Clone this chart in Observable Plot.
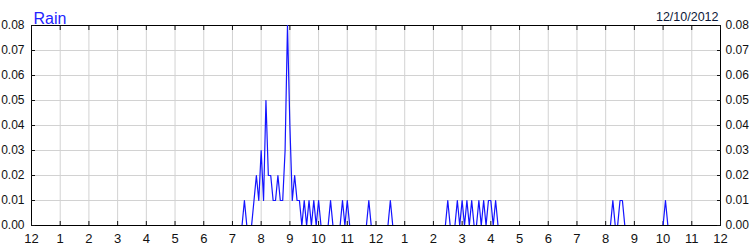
<!DOCTYPE html>
<html><head><meta charset="utf-8">
<script src="https://cdn.jsdelivr.net/npm/d3@7"></script>
<script src="https://cdn.jsdelivr.net/npm/@observablehq/plot@0.6"></script>
<style>
html,body{margin:0;padding:0;background:#fff;}
</style></head><body><div id="chart"></div>
<script>
const title = "Rain";
const dateLabel = "12/10/2012";

// vertices of the rain trace (5-minute readings), time of day and inches
const times = [
  "00:00","07:20","07:25","07:30","07:40","07:45","07:50","07:55","08:00","08:05",
  "08:10","08:15","08:20","08:25","08:30","08:35","08:40","08:45","08:50","08:55",
  "09:00","09:05","09:10","09:15","09:20","09:25","09:30","09:35","09:40","09:45",
  "09:50","09:55","10:00","10:05","10:20","10:25","10:30","10:45","10:50","10:55","11:00","11:05",
  "11:40","11:45","11:50","12:25","12:30","12:35","14:25","14:30","14:35","14:45",
  "14:50","14:55","15:00","15:05","15:10","15:15","15:20","15:25","15:30","15:35",
  "15:40","15:45","15:50","15:55","16:00","16:05","16:10","16:15","20:10","20:15",
  "20:20","20:25","20:30","20:35","20:40","22:00","22:05","22:10","24:00"
];
const rain = [
  0,0,0.01,0,0,0.01,0.02,0.01,0.03,0.01,
  0.05,0.02,0.02,0.01,0.01,0.02,0.01,0.01,0.03,0.08,
  0.04,0.01,0.02,0.01,0.01,0,0.01,0,0.01,0,
  0.01,0,0.01,0,0,0.01,0,0,0.01,0,0.01,0,
  0,0.01,0,0,0.01,0,0,0.01,0,0,
  0.01,0,0.01,0,0.01,0,0.01,0,0,0.01,
  0,0.01,0,0.01,0.01,0,0.01,0,0,0.01,
  0,0,0.01,0.01,0,0,0.01,0,0
];

const hourTicks = [0,1,2,3,4,5,6,7,8,9,10,11,12,13,14,15,16,17,18,19,20,21,22,23,24];
const hourLabels = ["12","1","2","3","4","5","6","7","8","9","10","11","12","1","2","3","4","5","6","7","8","9","10","11","12"];
const rainTicks = [0,0.01,0.02,0.03,0.04,0.05,0.06,0.07,0.08];

const toHours = t => { const [h, m] = t.split(":").map(Number); return h + m / 60; };
const data = times.map((t, i) => ({hour: toHours(t), rain: rain[i]}));

const chart = Plot.plot({
  width: 750, height: 250,
  marginLeft: 31, marginRight: 30, marginTop: 25, marginBottom: 25,
  style: {fontFamily: "'Liberation Sans', Arial, sans-serif", fontSize: "13px", color: "#111", background: "#fff", overflow: "visible"},
  x: {domain: [0, 24], ticks: hourTicks},
  y: {domain: [0, 0.08], ticks: rainTicks},
  marks: [
    Plot.gridX(hourTicks, {stroke: "#d2d2d2", strokeOpacity: 1}),
    Plot.gridY(rainTicks, {stroke: "#d2d2d2", strokeOpacity: 1}),
    Plot.frame({stroke: "#000"}),
    Plot.axisX(hourTicks, {anchor: "bottom", tickSize: 0, tickPadding: 8, tickFormat: d => hourLabels[d], label: null}),
    Plot.axisX(hourTicks, {anchor: "bottom", tickSize: -4, fill: "none", label: null}),
    Plot.axisX(hourTicks, {anchor: "top", tickSize: -4, fill: "none", label: null}),
    Plot.axisY(rainTicks, {anchor: "left", tickSize: 0, tickPadding: 7, fontSize: 12, tickFormat: d => d.toFixed(2), label: null}),
    Plot.axisY(rainTicks, {anchor: "left", tickSize: -4, fill: "none", label: null}),
    Plot.axisY(rainTicks, {anchor: "right", tickSize: 0, tickPadding: 5, fontSize: 12, tickFormat: d => d.toFixed(2), label: null}),
    Plot.axisY(rainTicks, {anchor: "right", tickSize: -4, fill: "none", label: null}),
    Plot.line(data, {x: "hour", y: "rain", stroke: "#1414ff", strokeWidth: 1.2, clip: true}),
    Plot.text([title], {frameAnchor: "top-left", dx: 2, dy: -13, textAnchor: "start", fontSize: 16, fill: "#2424ff"}),
    Plot.text([dateLabel], {frameAnchor: "top-right", dx: -2, dy: -13, textAnchor: "end", fontSize: 12.5, fill: "#0c1838"})
  ]
});
document.getElementById("chart").appendChild(chart);
</script>
</body></html>
